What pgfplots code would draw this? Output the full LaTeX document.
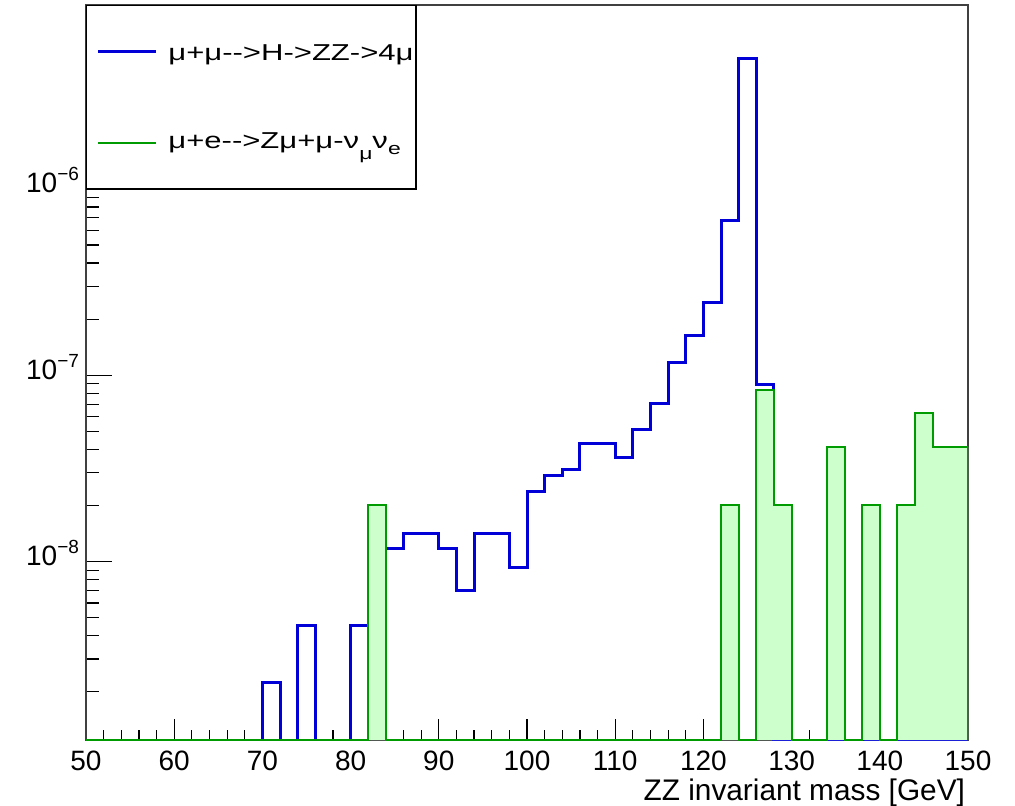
\documentclass[border=0pt]{standalone}
\usepackage{fontspec}
\setmainfont{Liberation Sans}
\newfontfamily\legfont{Liberation Sans}[FakeStretch=1.35]
\usepackage{pgfplots}
\pgfplotsset{compat=1.18}
\definecolor{hblue}{RGB}{0,0,215}
\definecolor{hgreen}{RGB}{0,155,0}
\definecolor{hfill}{RGB}{204,255,204}
\newcommand\tenexp[1]{10\raisebox{6pt}{\fontsize{9.5}{10}\selectfont −#1}}
\pgfplotstableread{
x y
50 1.103e-9
52 1.103e-9
54 1.103e-9
56 1.103e-9
58 1.103e-9
60 1.103e-9
62 1.103e-9
64 1.103e-9
66 1.103e-9
68 1.103e-9
70 2.25e-9
72 1.103e-9
74 4.56e-9
76 1.103e-9
78 1.103e-9
80 4.56e-9
82 4.56e-9
84 1.174e-8
86 1.408e-8
88 1.408e-8
90 1.174e-8
92 6.96e-9
94 1.408e-8
96 1.408e-8
98 9.33e-9
100 2.375e-8
102 2.894e-8
104 3.116e-8
106 4.32e-8
108 4.32e-8
110 3.633e-8
112 5.09e-8
114 7.08e-8
116 1.169e-7
118 1.64e-7
120 2.466e-7
122 6.79e-7
124 5.0e-6
126 8.88e-8
128 1.103e-9
130 1.103e-9
132 1.103e-9
134 1.103e-9
136 1.103e-9
138 1.103e-9
140 1.103e-9
142 1.103e-9
144 1.103e-9
146 1.103e-9
148 1.103e-9
150 1.103e-9
}\bluetab
\pgfplotstableread{
x y
50 1.103e-9
52 1.103e-9
54 1.103e-9
56 1.103e-9
58 1.103e-9
60 1.103e-9
62 1.103e-9
64 1.103e-9
66 1.103e-9
68 1.103e-9
70 1.103e-9
72 1.103e-9
74 1.103e-9
76 1.103e-9
78 1.103e-9
80 1.103e-9
82 2.02e-8
84 1.103e-9
86 1.103e-9
88 1.103e-9
90 1.103e-9
92 1.103e-9
94 1.103e-9
96 1.103e-9
98 1.103e-9
100 1.103e-9
102 1.103e-9
104 1.103e-9
106 1.103e-9
108 1.103e-9
110 1.103e-9
112 1.103e-9
114 1.103e-9
116 1.103e-9
118 1.103e-9
120 1.103e-9
122 2.02e-8
124 1.103e-9
126 8.37e-8
128 2.02e-8
130 1.103e-9
132 1.103e-9
134 4.14e-8
136 1.103e-9
138 2.02e-8
140 1.103e-9
142 2.02e-8
144 6.28e-8
146 4.14e-8
148 4.14e-8
150 1.103e-9
}\greentab
\begin{document}
\begin{tikzpicture}
\begin{axis}[
  scale only axis, width=441pt, height=367.5pt,
  ymode=log, xmin=50, xmax=150, ymin=1.103e-9, ymax=9.70e-6,
  xtick={50,60,...,150}, minor x tick num=4,
  ytick={1e-8,1e-7,1e-6},
  yticklabels={\tenexp{8},\tenexp{7},\tenexp{6}},
  minor ytick={2e-9,3e-9,4e-9,5e-9,6e-9,7e-9,8e-9,9e-9,
               2e-8,3e-8,4e-8,5e-8,6e-8,7e-8,8e-8,9e-8,
               2e-7,3e-7,4e-7,5e-7,6e-7,7e-7,8e-7,9e-7,
               2e-6,3e-6,4e-6,5e-6,6e-6,7e-6,8e-6,9e-6},
  xtick pos=left, ytick pos=left, tick align=inside,
  axis line style={black!75, line width=0.7pt},
  every tick/.style={black, line width=0.6pt},
  xtick style={/pgfplots/major tick length=10.5pt,/pgfplots/minor tick length=5.25pt},
  ytick style={/pgfplots/major tick length=13pt,/pgfplots/minor tick length=6.5pt},
  tick label style={font=\fontsize{14}{16}\selectfont},
  /pgf/number format/assume math mode=true,
  xticklabel style={anchor=base, yshift=-15pt},
  yticklabel style={anchor=base east, yshift=-2pt},
  xlabel={ZZ invariant mass [GeV]},
  xlabel style={at={(rel axis cs:1,0)}, anchor=base east, yshift=-30pt, xshift=2pt, font=\fontsize{14.9}{17}\selectfont},
]
\addplot[const plot, draw=hblue, line width=1.5pt] table {\bluetab};
\addplot[const plot, draw=hgreen, fill=hfill, line width=1pt] table {\greentab};
% legend
\fill[white] (rel axis cs:0,1) rectangle ([xshift=165pt,yshift=-92pt]rel axis cs:0,1);
\draw[black, line width=0.7pt] (rel axis cs:0,1) rectangle ([xshift=165pt,yshift=-92pt]rel axis cs:0,1);
\draw[hblue, line width=1.5pt] ([xshift=6pt,yshift=-23pt]rel axis cs:0,1) -- ([xshift=35pt,yshift=-23pt]rel axis cs:0,1);
\draw[hgreen, line width=1pt] ([xshift=6pt,yshift=-69pt]rel axis cs:0,1) -- ([xshift=35pt,yshift=-69pt]rel axis cs:0,1);
\node[anchor=base west, inner sep=0pt, font=\legfont\fontsize{11.5}{13}\selectfont] at ([xshift=41pt,yshift=-27.5pt]rel axis cs:0,1) {μ+μ-{}->H->ZZ->4μ};
\node[anchor=base west, inner sep=0pt, font=\legfont\fontsize{11.5}{13}\selectfont] at ([xshift=41pt,yshift=-71.7pt]rel axis cs:0,1) {μ+e-{}->Zμ+μ-ν\raisebox{-5.5pt}{\fontsize{8.5}{9}\selectfont μ}ν\raisebox{-3pt}{\fontsize{8.5}{9}\selectfont e}};
\end{axis}
\pgfresetboundingbox
\path[use as bounding box] ([xshift=-43pt,yshift=-33pt]current axis.south west) rectangle ([xshift=23.5pt,yshift=2.5pt]current axis.north east);
\end{tikzpicture}
\end{document}
